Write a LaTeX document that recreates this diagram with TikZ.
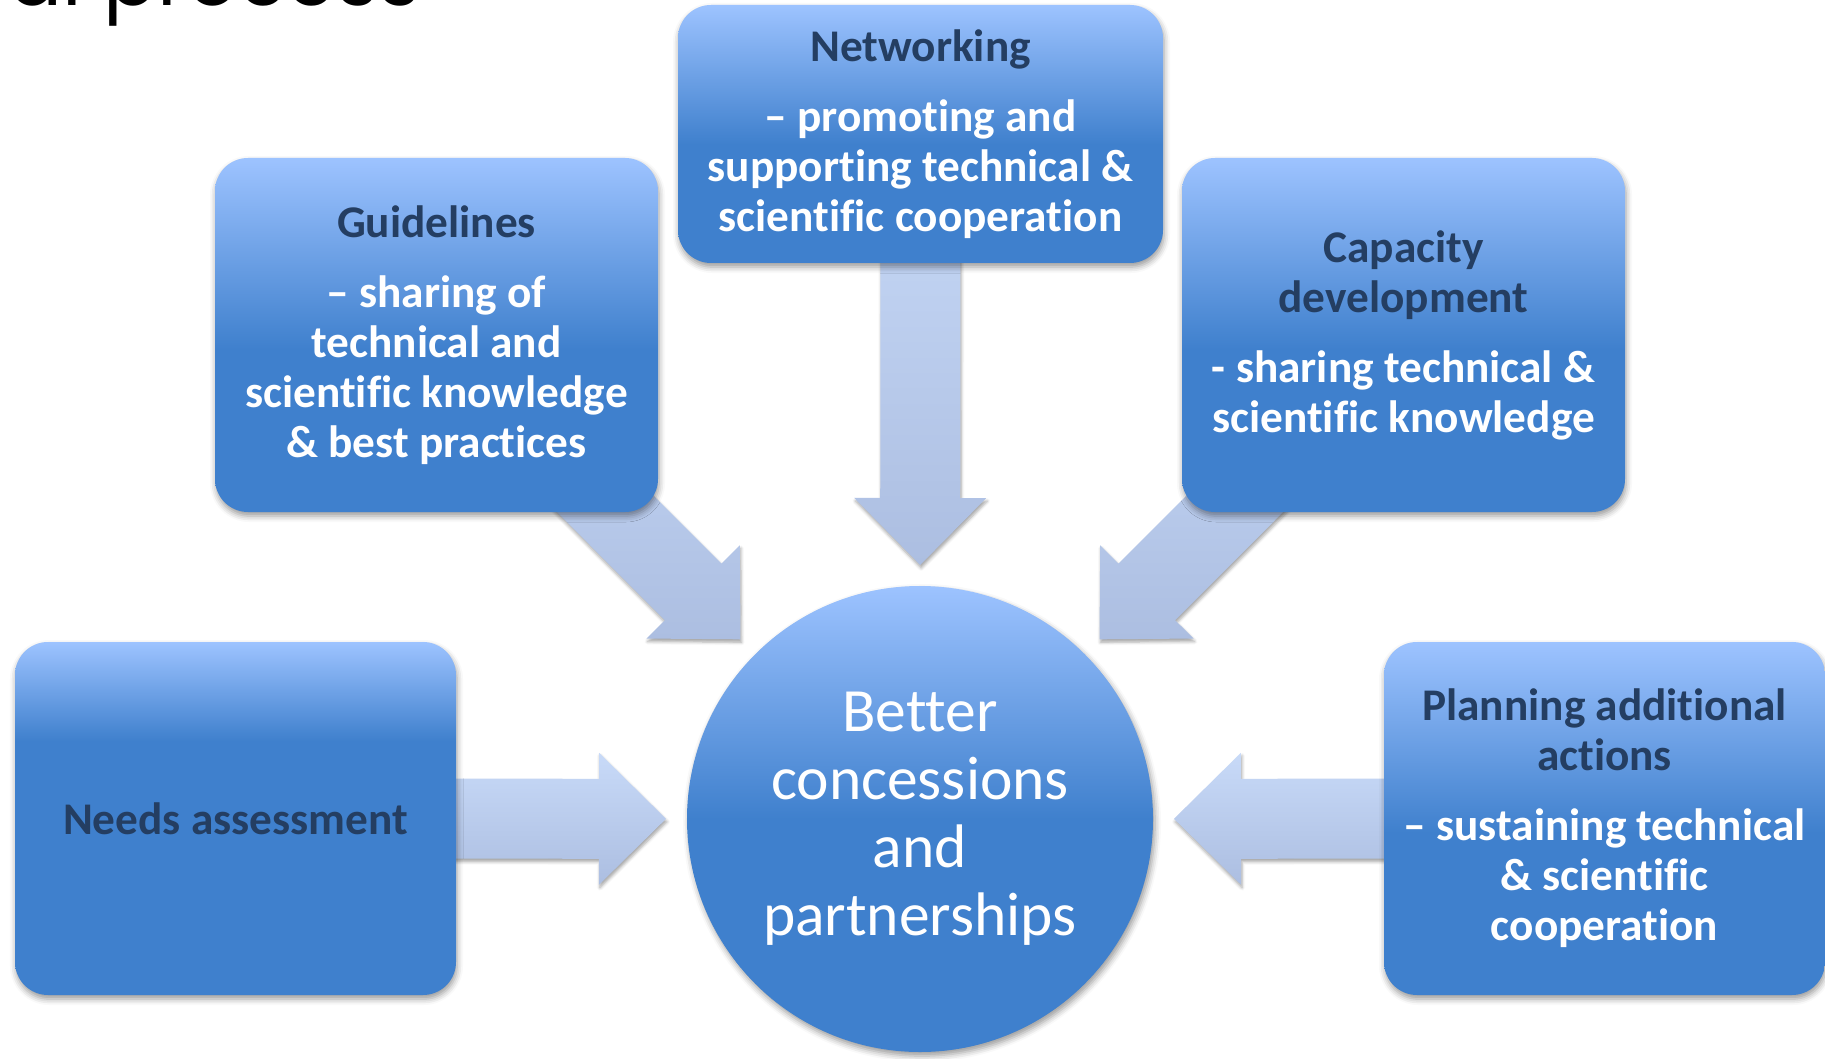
\documentclass[tikz,border=0pt]{standalone}
\usepackage{fontspec}
\setmainfont{Carlito}[Ligatures=NoCommon]
\newfontfamily\titlefont{Poppins}
\usepackage{xcolor}
\usepackage{tikz}
\usetikzlibrary{calc,shadows.blur}

\definecolor{boxdark}{RGB}{63,128,205}
\definecolor{boxlight}{RGB}{157,195,255}
\definecolor{headblue}{RGB}{36,62,98}
\definecolor{arrowlight}{RGB}{200,218,248}
\definecolor{arrowdark}{RGB}{172,190,225}

\pgfdeclareverticalshading{boxfill}{100bp}{color(0bp)=(boxdark); color(48bp)=(boxdark); color(75bp)=(boxlight); color(100bp)=(boxlight)}
\pgfdeclareverticalshading{needsfill}{100bp}{color(0bp)=(boxdark); color(61bp)=(boxdark); color(75bp)=(boxlight); color(100bp)=(boxlight)}
\pgfdeclareverticalshading{circfill}{100bp}{color(0bp)=(boxdark); color(50bp)=(boxdark); color(75bp)=(boxlight); color(100bp)=(boxlight)}

\pgfdeclarelayer{bg}
\pgfsetlayers{bg,main}

\newcommand{\hd}[1]{\textcolor{headblue}{#1}}
% block arrow from node #1 into node #2
\newcommand{\bigarrow}[2]{%
  \coordinate (tip) at ($(#2.center)!254pt!(#1.center)$);
  \coordinate (base) at ($(tip)!67pt!(#1.center)$);
  \path[arrowfill] ($(#1.center)!40pt!90:(tip)$) -- ($(base)!40pt!90:(tip)$)
    -- ($(base)!66pt!90:(tip)$) -- (tip) -- ($(base)!66pt!-90:(tip)$)
    -- ($(base)!40pt!-90:(tip)$) -- ($(#1.center)!40pt!-90:(tip)$) -- cycle;}

\begin{document}
\begin{tikzpicture}%
    [x=1pt, y=-1pt,
    box/.style={rounded corners=33pt, minimum width=443pt, minimum height=354pt,
        inner sep=0pt, align=center, text=white,
        font=\fontsize{45.3}{50}\selectfont\bfseries,
        shade, shading=boxfill,
        blur shadow={shadow xshift=1pt, shadow yshift=-4pt, shadow blur radius=6pt, shadow opacity=40}},
    hub/.style={circle, minimum size=466pt, inner sep=0pt, align=center, text=white,
        font=\fontsize{61.5}{68}\selectfont,
        shade, shading=circfill,
        blur shadow={shadow xshift=2pt, shadow yshift=-4pt, shadow blur radius=6pt, shadow opacity=40}},
    arrowfill/.style={top color=arrowlight, bottom color=arrowdark,
        blur shadow={shadow xshift=1pt, shadow yshift=-3pt, shadow blur radius=3pt, shadow opacity=35}}]

    \useasboundingbox (0,0) rectangle (1825,1059);

    %% slide title, cut off at the top
    \node[anchor=base west, inner sep=0pt, font=\titlefont\fontsize{80}{90}\selectfont] (title) at (8,6) {al process};

    %% centre
    \node[hub] (goal) at (920,819) {Better\\ concessions\\ and\\ partnerships};

    %% the five boxes
    \node[box, minimum width=485pt, minimum height=258pt] (net) at (920.5,134)
        {\hd{Networking}\\[20pt] – promoting and\\ supporting technical \&\\ scientific cooperation};
    \node[box] (guide) at (436.5,335)
        {\hd{Guidelines}\\[20pt] – sharing of\\ technical and\\ scientific knowledge\\ \& best practices};
    \node[box] (cap) at (1403.5,335)
        {\hd{Capacity}\\ \hd{development}\\[20pt] - sharing technical \&\\ scientific knowledge};
    \node[box, minimum width=441pt, minimum height=353pt, shading=needsfill] (needs) at (235.5,818.5)
        {\hd{Needs assessment}};
    \node[box, minimum width=441pt, minimum height=353pt] (plan) at (1604.5,818.5)
        {\hd{Planning additional}\\ \hd{actions}\\[20pt] – sustaining technical\\ \& scientific\\ cooperation};

    %% arrows into the centre
    \begin{pgfonlayer}{bg}
    \bigarrow{net}{goal}
    \bigarrow{guide}{goal}
    \bigarrow{cap}{goal}
    \bigarrow{needs}{goal}
    \bigarrow{plan}{goal}
    \end{pgfonlayer}
\end{tikzpicture}
\end{document}
